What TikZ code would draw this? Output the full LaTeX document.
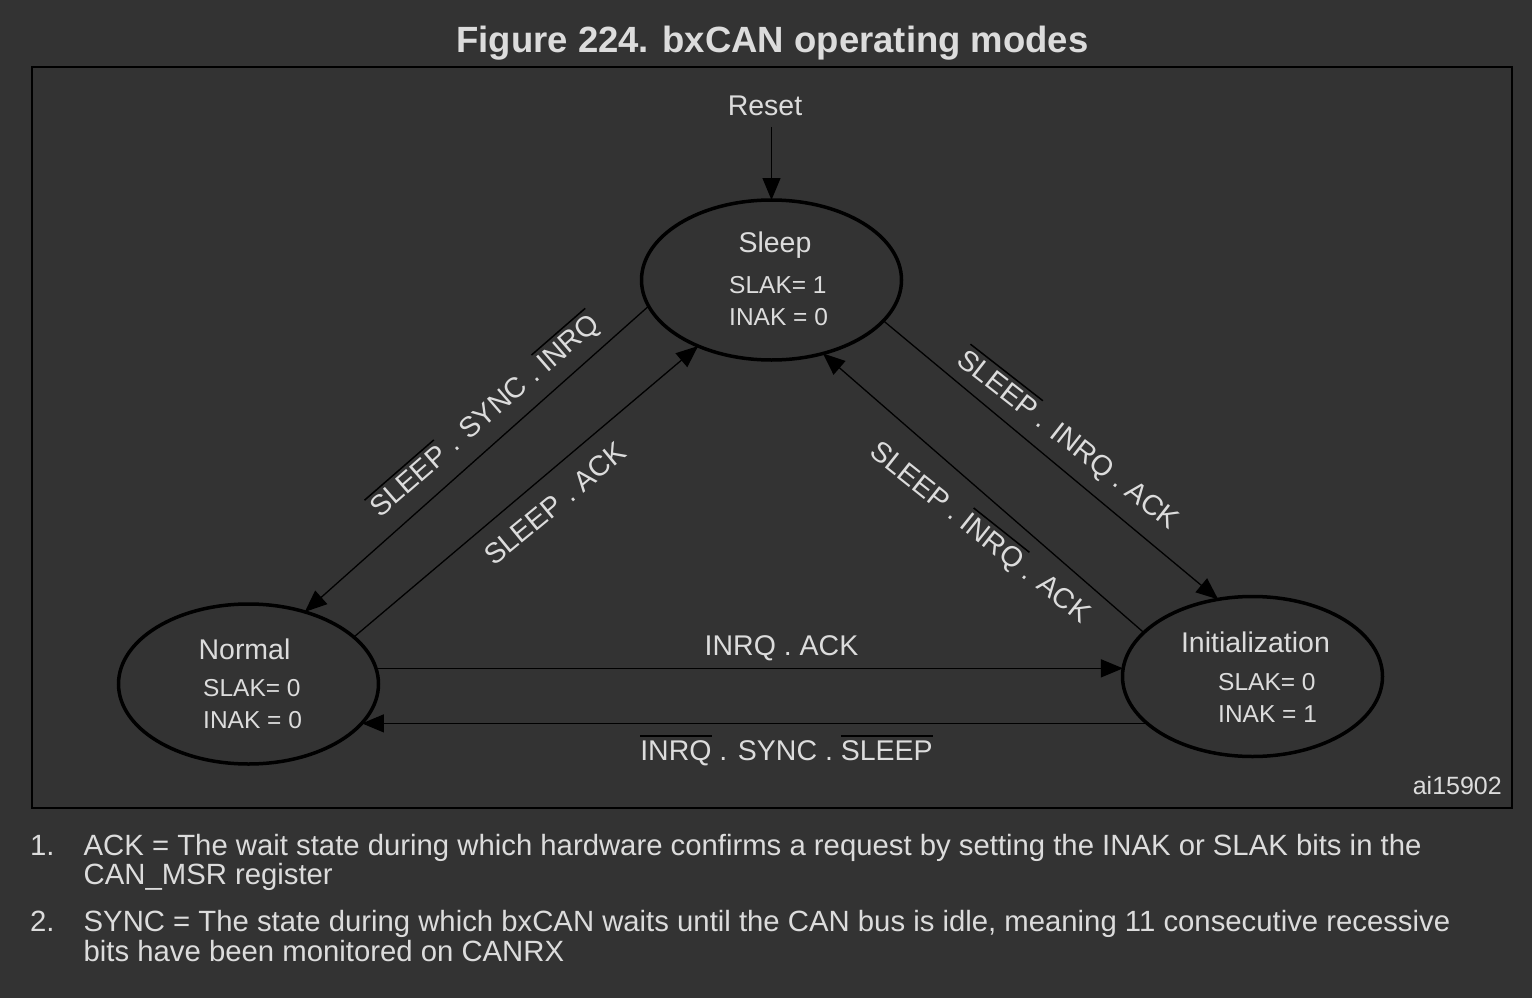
\documentclass[tikz,border=0pt]{standalone}
\usepackage{fontspec}
\setmainfont{Liberation Sans}
\usetikzlibrary{arrows.meta,shapes.geometric}
\definecolor{bg}{RGB}{51,51,51}
\definecolor{txt}{RGB}{220,220,220}
\newcommand\ovl[1]{{\setbox0\hbox{#1}\vbox{\color{black}\hrule height 1.5pt width \wd0 \kern 3.5pt \color{txt}\box0}}}
\tikzset{
  state/.style={draw=black, line width=3.5pt, ellipse, minimum width=260pt, minimum height=160pt, inner sep=0pt, outer sep=0pt},
  lbl/.style={text=txt, inner sep=0pt, anchor=base, font=\fontsize{28.5}{34}\selectfont},
  fld/.style={text=txt, inner sep=0pt, anchor=base west, font=\fontsize{24.5}{29}\selectfont},
  fn/.style={text=txt, inner sep=0pt, anchor=base west, font=\fontsize{29.3}{34}\selectfont},
  ttl/.style={text=txt, inner sep=0pt, anchor=base, font=\bfseries\fontsize{36.5}{44}\selectfont},
  arr/.style={draw=black, line width=1.3pt, -{Triangle[length=22pt,width=18pt]}},
  frame/.style={draw=black, line width=2pt},
}
\begin{document}
\begin{tikzpicture}[x=1pt,y=-1pt]
\fill[bg] (0,0) rectangle (1532,998);
\useasboundingbox (0,0) rectangle (1532,998);
\node[ttl] (title) at (772.5,53) {Figure 224. bxCAN operating modes};
\draw[frame] (32,67) rectangle (1512,808);

\node[state] (sleep) at (771.5,280) {};
\node[state] (normal) at (248.5,684) {};
\node[state] (init) at (1252.5,676.5) {};

\node[lbl, inner ysep=11pt] (reset) at (765,115.5) {Reset};
\node[lbl] (sleepname) at (775,252) {Sleep};
\node[fld] (sleepslak) at (729,293) {SLAK= 1};
\node[fld] (sleepinak) at (729,325) {INAK = 0};
\node[lbl] (normalname) at (244.5,659.5) {Normal};
\node[fld] (normalslak) at (203,696) {SLAK= 0};
\node[fld] (normalinak) at (203,728) {INAK = 0};
\node[lbl] (initname) at (1255.5,652) {Initialization};
\node[fld] (initslak) at (1218,690) {SLAK= 0};
\node[fld] (initinak) at (1218,722.5) {INAK = 1};

\draw[arr] (sleep.north |- reset.south) -- (sleep.north);
\draw[arr] (sleep.192) -- (normal.52);
\draw[arr] (normal.24) -- (sleep.222);
\draw[arr] (sleep.340) -- (init.114);
\draw[arr] (init.158) -- (sleep.305);
\draw[arr] (normal.7) -- (normal.7 -| init.177);
\draw[arr] (init.204) -- (init.204 -| normal.341);

\node[lbl, rotate=41] (l1) at (490.7,422.5) {\ovl{SLEEP} . SYNC . \ovl{INRQ}};
\node[lbl, rotate=39.5] (l2) at (561.3,511.2) {SLEEP . ACK};
\node[lbl, rotate=-38] (l3) at (1062.7,446.9) {\ovl{SLEEP} . INRQ . ACK};
\node[lbl, rotate=-38.5] (l4) at (974.5,539.5) {SLEEP . \ovl{INRQ} . ACK};
\node[lbl] (l5) at (781.5,655.3) {INRQ . ACK};
\node[lbl] (l6) at (786.5,760) {\ovl{INRQ} . SYNC . \ovl{SLEEP}};
\node[lbl, anchor=base east, font=\fontsize{25}{30}\selectfont] (ai) at (1502,794) {ai15902};

\node[fn] (n1) at (30,855) {1.};
\node[fn] (f1a) at (83.5,855) {ACK = The wait state during which hardware confirms a request by setting the INAK or SLAK bits in the};
\node[fn] (f1b) at (83.5,884.5) {CAN\_MSR register};
\node[fn] (n2) at (30,931) {2.};
\node[fn] (f2a) at (83.5,931) {SYNC = The state during which bxCAN waits until the CAN bus is idle, meaning 11 consecutive recessive};
\node[fn] (f2b) at (83.5,961.5) {bits have been monitored on CANRX};
\end{tikzpicture}
\end{document}
